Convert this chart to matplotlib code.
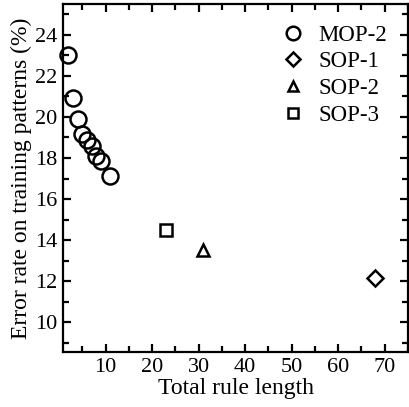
import matplotlib
matplotlib.use("Agg")
import matplotlib.pyplot as plt
from matplotlib.ticker import MultipleLocator

plt.rcParams['font.family'] = ['Liberation Serif', 'DejaVu Serif']
plt.rcParams['font.size'] = 16

# rule length vs. training error
mop2_len = [2, 3, 4, 5, 6, 7, 8, 9, 11]
mop2_err = [23.0, 20.9, 19.9, 19.15, 18.9, 18.6, 18.1, 17.85, 17.1]
sop1_len = [68]
sop1_err = [12.15]
sop2_len = [31]
sop2_err = [13.5]
sop3_len = [23]
sop3_err = [14.5]

fig = plt.figure(figsize=(4.09, 4.07), dpi=100)
ax = fig.add_axes([63 / 409, 55 / 407, 345 / 409, 348 / 407])

style = dict(linestyle='none', markerfacecolor='none', markeredgecolor='black',
             markeredgewidth=1.8, clip_on=False)
ax.plot(mop2_len, mop2_err, marker='o', markersize=11.5, label='MOP-2', **style)
ax.plot(sop1_len, sop1_err, marker='D', markersize=8.5, label='SOP-1', **style)
ax.plot(sop2_len, sop2_err, marker='^', markersize=9, label='SOP-2', **style)
ax.plot(sop3_len, sop3_err, marker='s', markersize=8, label='SOP-3', **style)

ax.set_xlim(0.85, 75)
ax.set_ylim(8.55, 25.5)
ax.xaxis.set_major_locator(MultipleLocator(10))
ax.xaxis.set_minor_locator(MultipleLocator(5))
ax.yaxis.set_major_locator(MultipleLocator(2))
ax.yaxis.set_minor_locator(MultipleLocator(1))
ax.tick_params(which='both', direction='in', top=True, right=True, width=1.6)
ax.tick_params(which='major', length=6, pad=4)
ax.tick_params(which='minor', length=4)
for s in ax.spines.values():
    s.set_linewidth(1.6)

ax.set_xlabel('Total rule length', fontsize=17, labelpad=1)
ax.set_ylabel('Error rate on training patterns (%)', fontsize=17, labelpad=2)

ax.legend(loc='upper right', frameon=False, handletextpad=0.5, labelspacing=0.25,
          borderaxespad=0.5, handlelength=1.2, markerscale=0.85, fontsize=16.5)

fig.savefig('out.png', dpi=100)
